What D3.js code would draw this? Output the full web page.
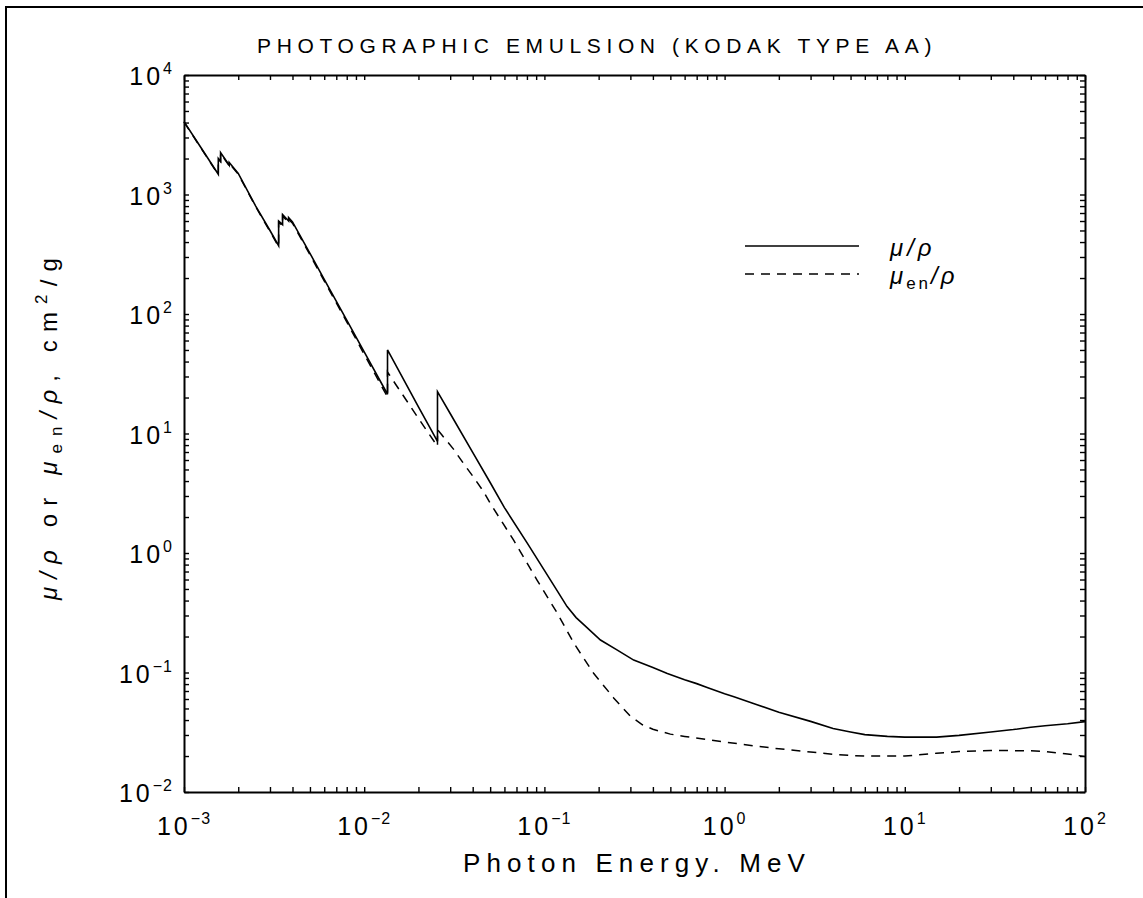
<!DOCTYPE html>
<html>
<head>
<meta charset="utf-8">
<script src="https://cdn.jsdelivr.net/npm/d3@7"></script>
<style>
  html, body { margin: 0; padding: 0; background: #fff; }
  svg { display: block; }
  text { font-family: "Liberation Sans", "DejaVu Sans", sans-serif; fill: #000; }
</style>
</head>
<body>
<svg id="chart" width="1143" height="898"></svg>
<script>
// ---------------- data ----------------
const chartTitle = "PHOTOGRAPHIC EMULSION (KODAK TYPE AA)";
const xAxisTitle = "Photon Energy. MeV";
const xTickExponents = [-3, -2, -1, 0, 1, 2];
const yTickExponents = [-2, -1, 0, 1, 2, 3, 4];
const legendLabels = ["μ/ρ", "μen/ρ"];

// mu/rho (solid), energy in MeV, value in cm2/g
const muEnergy = [1e-3, 1.2e-3, 1.55e-3, 1.55e-3, 1.596e-3, 1.596e-3, 1.782e-3, 1.782e-3, 2e-3, 2.5e-3, 3e-3,
  3.351e-3, 3.351e-3, 3.524e-3, 3.524e-3, 3.806e-3, 3.806e-3, 4e-3, 5e-3, 6e-3, 8e-3, 1e-2,
  1.347e-2, 1.347e-2, 1.5e-2, 2e-2, 2.551e-2, 2.551e-2, 3e-2, 4e-2, 5e-2, 6e-2, 8e-2,
  0.1, 0.12, 0.1336, 0.15, 0.17, 0.2047, 0.25, 0.313, 0.4, 0.481, 0.6, 0.7, 0.8, 1, 1.127, 1.5, 2, 3, 4, 5, 6, 8, 10, 15, 20, 30, 40, 50, 60, 80, 100];
const muValues = [4070, 2670, 1476, 2000, 1900, 2240, 1760, 1850, 1500, 800, 500,
  373, 600, 560, 680, 600, 640, 590, 322, 195, 89, 48.3,
  21.3, 50, 37.2, 16.7, 8.6, 22.4, 14.7, 6.95, 3.89, 2.4, 1.22,
  0.716, 0.461, 0.356, 0.288, 0.242, 0.187, 0.156, 0.127, 0.110, 0.098, 0.087, 0.0807, 0.075, 0.0665, 0.0627, 0.054, 0.0465, 0.039, 0.034, 0.0318, 0.0302, 0.0292, 0.0288, 0.0288, 0.0298, 0.0318, 0.0333, 0.0348, 0.0358, 0.0373, 0.0388];

// mu_en/rho (dashed)
const muEnEnergy = [1e-3, 1.2e-3, 1.55e-3, 1.55e-3, 1.596e-3, 1.596e-3, 1.782e-3, 1.782e-3, 2e-3, 2.5e-3, 3e-3,
  3.351e-3, 3.351e-3, 3.524e-3, 3.524e-3, 3.806e-3, 3.806e-3, 4e-3, 5e-3, 6e-3, 8e-3, 1e-2,
  1.347e-2, 1.347e-2, 1.5e-2, 2e-2, 2.551e-2, 2.551e-2, 2.7e-2, 3.13e-2, 3.56e-2, 4.05e-2, 4.6e-2, 5e-2, 6.75e-2,
  9.1e-2, 0.118, 0.146, 0.188, 0.243, 0.3, 0.35, 0.4, 0.5, 0.6, 0.8, 1, 1.5, 2, 3, 4, 5, 6, 8, 10, 15, 20, 30, 40, 50, 60, 80, 100];
const muEnValues = [4040, 2650, 1465, 1980, 1880, 2210, 1740, 1820, 1480, 790, 490,
  366, 585, 548, 660, 585, 622, 575, 313, 189, 86, 46,
  20.2, 32.7, 25.6, 13.4, 7.8, 10.8, 9.7, 7.4, 5.6, 4.3, 3.26, 2.61, 1.28,
  0.594, 0.313, 0.175, 0.098, 0.061, 0.043, 0.0365, 0.0335, 0.0305, 0.0292, 0.0275, 0.0262, 0.0242, 0.0230, 0.0216, 0.0207, 0.0202, 0.0200, 0.0200, 0.0200, 0.0211, 0.0218, 0.0222, 0.0222, 0.0221, 0.0218, 0.0208, 0.0198];

// ---------------- layout ----------------
const svg = d3.select("#chart");
const W = 1143, H = 898;
const plot = { left: 184, right: 1085, top: 75, bottom: 792 };

svg.append("rect").attr("width", W).attr("height", H).attr("fill", "#fff");
// outer frame
svg.append("rect").attr("x", 6).attr("y", 7).attr("width", 1300).attr("height", 1100)
  .attr("fill", "none").attr("stroke", "#000").attr("stroke-width", 2);

const x = d3.scaleLog().domain([1e-3, 1e2]).range([plot.left, plot.right]);
const y = d3.scaleLog().domain([1e-2, 1e4]).range([plot.bottom, plot.top]);

const tickLen = 5;
const xt = x.ticks();
const yt = y.ticks();

function styleAxis(g) {
  g.selectAll("path.domain").attr("stroke", "#000").attr("stroke-width", 2);
  g.selectAll(".tick line").attr("stroke", "#000").attr("stroke-width", 1.4);
  g.selectAll(".tick text").remove();
}
svg.append("g").attr("transform", `translate(0,${plot.bottom})`)
  .call(d3.axisBottom(x).tickValues(xt).tickSize(-tickLen).tickSizeOuter(0).tickFormat(""))
  .call(styleAxis);
svg.append("g").attr("transform", `translate(0,${plot.top})`)
  .call(d3.axisTop(x).tickValues(xt).tickSize(-tickLen).tickSizeOuter(0).tickFormat(""))
  .call(styleAxis);
svg.append("g").attr("transform", `translate(${plot.left},0)`)
  .call(d3.axisLeft(y).tickValues(yt).tickSize(-tickLen).tickSizeOuter(0).tickFormat(""))
  .call(styleAxis);
svg.append("g").attr("transform", `translate(${plot.right},0)`)
  .call(d3.axisRight(y).tickValues(yt).tickSize(-tickLen).tickSizeOuter(0).tickFormat(""))
  .call(styleAxis);

function fmtExp(e) { return e < 0 ? "\u2212" + Math.abs(e) : String(e); }

// x tick labels
xTickExponents.forEach(e => {
  const t = svg.append("text")
    .attr("x", x(Math.pow(10, e))).attr("y", 835)
    .attr("text-anchor", "middle").style("font-size", "25px").style("letter-spacing", "3px");
  t.append("tspan").text("10");
  t.append("tspan").attr("dy", -11).style("font-size", "16px").style("letter-spacing", "1px").text(fmtExp(e));
});
// y tick labels
yTickExponents.forEach(e => {
  const t = svg.append("text")
    .attr("x", 173).attr("y", y(Math.pow(10, e)) + 10)
    .attr("text-anchor", "end").style("font-size", "25px").style("letter-spacing", "3px");
  t.append("tspan").text("10");
  t.append("tspan").attr("dy", -11).style("font-size", "16px").style("letter-spacing", "1px").text(fmtExp(e));
});

// fit text to a width by letter-spacing
function fitWidth(sel, target) {
  const node = sel.node();
  const n = node.textContent.length;
  const w = node.getComputedTextLength();
  sel.style("letter-spacing", ((target - w) / n) + "px");
}

// title
const title = svg.append("text").attr("x", 257).attr("y", 53).style("font-size", "21px").text(chartTitle);
fitWidth(title, 680);

// x axis title
const xt2 = svg.append("text").attr("x", 463).attr("y", 872).style("font-size", "26px").text(xAxisTitle);
fitWidth(xt2, 348);

// y axis title (rotated)
const yl = svg.append("text").attr("transform", "translate(57,600) rotate(-90)")
  .style("font-size", "24px");
yl.append("tspan").style("font-style", "italic").text("μ/ρ");
yl.append("tspan").text(" or ");
yl.append("tspan").style("font-style", "italic").text("μ");
yl.append("tspan").attr("dy", 5).style("font-size", "17px").text("en");
yl.append("tspan").attr("dy", -5).style("font-style", "italic").text("/ρ");
yl.append("tspan").text(", cm");
yl.append("tspan").attr("dy", -10).style("font-size", "17px").text("2");
yl.append("tspan").attr("dy", 10).text("/g");
fitWidth(yl, 350);

// lines
const line = d3.line().x(d => x(d[0])).y(d => y(d[1]));
const muData = muEnergy.map((e, i) => [e, muValues[i]]);
const muEnData = muEnEnergy.map((e, i) => [e, muEnValues[i]]);

svg.append("path").datum(muEnData).attr("d", line)
  .attr("fill", "none").attr("stroke", "#000").attr("stroke-width", 1.5)
  .attr("stroke-dasharray", "9,7");
svg.append("path").datum(muData).attr("d", line)
  .attr("fill", "none").attr("stroke", "#000").attr("stroke-width", 1.6);

// legend
svg.append("line").attr("x1", 745).attr("x2", 859).attr("y1", 246).attr("y2", 246)
  .attr("stroke", "#000").attr("stroke-width", 1.6);
svg.append("line").attr("x1", 745).attr("x2", 859).attr("y1", 274).attr("y2", 274)
  .attr("stroke", "#000").attr("stroke-width", 1.5).attr("stroke-dasharray", "9,7");
const l1 = svg.append("text").attr("x", 890).attr("y", 256).style("font-size", "24px")
  .style("font-style", "italic").style("letter-spacing", "4px").text(legendLabels[0]);
const l2 = svg.append("text").attr("x", 890).attr("y", 284).style("font-size", "24px")
  .style("letter-spacing", "3px");
l2.append("tspan").style("font-style", "italic").text("μ");
l2.append("tspan").attr("dy", 5).style("font-size", "17px").text("en");
l2.append("tspan").attr("dy", -5).style("font-style", "italic").text("/ρ");
</script>
</body>
</html>
